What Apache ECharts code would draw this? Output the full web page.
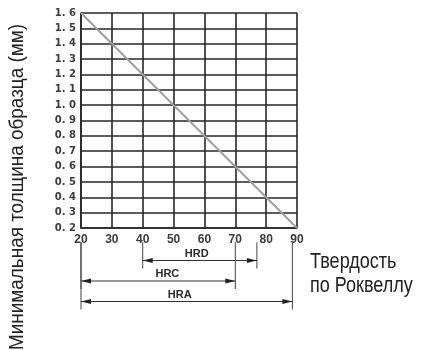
<!DOCTYPE html>
<html>
<head>
<meta charset="utf-8">
<script src="https://cdn.jsdelivr.net/npm/echarts@6/dist/echarts.min.js"></script>
<style>
  html, body { margin: 0; padding: 0; background: #fff; }
  #chart { width: 425px; height: 350px; }
</style>
</head>
<body>
<div id="chart"></div>
<script>
// ---- data ----
const hardness = [20, 90];            // Rockwell hardness (x)
const thickness = [1.6, 0.2];         // minimum sample thickness, mm (y)
const xTickLabels = ['20', '30', '40', '50', '60', '70', '80', '90'];
const yTickLabels = ['0. 2', '0. 3', '0. 4', '0. 5', '0. 6', '0. 7', '0. 8', '0. 9',
                     '1. 0', '1. 1', '1. 2', '1. 3', '1. 4', '1. 5', '1. 6'];
const scaleNames = ['HRD', 'HRC', 'HRA'];
const scaleFrom = [40, 20, 20];
const scaleTo = [77, 70, 88.5];
const scaleLabelAt = [57.5, 48, 52];
const yTitle = 'Минимальная толщина образца (мм)';
const xTitle = 'Твердость\nпо Роквеллу';

// ---- chart ----
const chart = echarts.init(document.getElementById('chart'), null, { renderer: 'canvas' });
const INK = '#262626';

const rangeData = scaleNames.map((n, i) => [i, scaleFrom[i], scaleTo[i], scaleLabelAt[i], n]);

chart.setOption({
  animation: false,
  backgroundColor: '#fff',
  grid: [
    { left: 81, top: 13, width: 216, height: 215 },
    { left: 81, top: 250.25, width: 216, height: 61.5 }
  ],
  xAxis: [
    {
      type: 'value', gridIndex: 0, min: 20, max: 90, interval: 10,
      axisLine: { show: true, lineStyle: { color: INK, width: 1.6 } },
      axisTick: { show: false },
      splitLine: { show: true, lineStyle: { color: INK, width: 1.6 } },
      axisLabel: {
        margin: 6, color: '#3c3c3c', fontFamily: 'Liberation Sans', fontWeight: 'bold', fontSize: 12,
        formatter: v => xTickLabels[Math.round((v - 20) / 10)]
      }
    },
    {
      type: 'value', gridIndex: 1, min: 20, max: 90, show: false
    }
  ],
  yAxis: [
    {
      type: 'value', gridIndex: 0, min: 0.2, max: 1.6, interval: 0.1,
      axisLine: { show: true, lineStyle: { color: INK, width: 1.6 } },
      axisTick: { show: false },
      splitLine: { show: true, lineStyle: { color: INK, width: 1.6 } },
      axisLabel: {
        margin: 5, color: '#3c3c3c', fontFamily: 'DejaVu Sans', fontWeight: 'bold', fontSize: 10,
        formatter: v => yTickLabels[Math.round((v - 0.2) / 0.1)]
      }
    },
    {
      type: 'category', gridIndex: 1, data: scaleNames, inverse: true, show: false
    }
  ],
  series: [
    {
      type: 'line', xAxisIndex: 0, yAxisIndex: 0,
      data: hardness.map((h, i) => [h, thickness[i]]),
      symbol: 'none',
      lineStyle: { color: '#a0a0a0', width: 2 },
      z: 5
    },
    {
      type: 'custom', xAxisIndex: 1, yAxisIndex: 1,
      data: rangeData,
      clip: false,
      renderItem: function (params, api) {
        const row = api.value(0);
        const p0 = api.coord([api.value(1), row]);
        const p1 = api.coord([api.value(2), row]);
        const pl = api.coord([api.value(3), row]);
        const y = p0[1];
        const top = params.coordSys.y - 8;
        const ah = 10, aw = 2.6;
        return {
          type: 'group',
          children: [
            { type: 'line', shape: { x1: p0[0], y1: top, x2: p0[0], y2: y + 8 }, style: { stroke: '#444', lineWidth: 1 } },
            { type: 'line', shape: { x1: p1[0], y1: top, x2: p1[0], y2: y + 8 }, style: { stroke: '#444', lineWidth: 1 } },
            { type: 'line', shape: { x1: p0[0], y1: y, x2: p1[0], y2: y }, style: { stroke: '#333', lineWidth: 1 } },
            { type: 'polygon', shape: { points: [[p0[0], y], [p0[0] + ah, y - aw], [p0[0] + ah, y + aw]] }, style: { fill: '#222' } },
            { type: 'polygon', shape: { points: [[p1[0], y], [p1[0] - ah, y - aw], [p1[0] - ah, y + aw]] }, style: { fill: '#222' } },
            { type: 'text', x: pl[0], y: y - 7,
              style: { text: api.value(4), fill: '#2a2a2a', font: 'bold 11px "Liberation Sans"', align: 'center', verticalAlign: 'middle' } }
          ]
        };
      }
    }
  ],
  graphic: [
    {
      type: 'text', x: 17, y: 187, rotation: Math.PI / 2, scaleX: 0.9,
      style: { text: yTitle, font: '21px "Liberation Sans"', fill: '#222', align: 'center', verticalAlign: 'middle' }
    },
    {
      type: 'text', x: 310, y: 250, scaleX: 0.82,
      style: { text: xTitle, font: '22px "Liberation Sans"', lineHeight: 24, fill: '#222', align: 'left', verticalAlign: 'top' }
    }
  ]
});
</script>
</body>
</html>
